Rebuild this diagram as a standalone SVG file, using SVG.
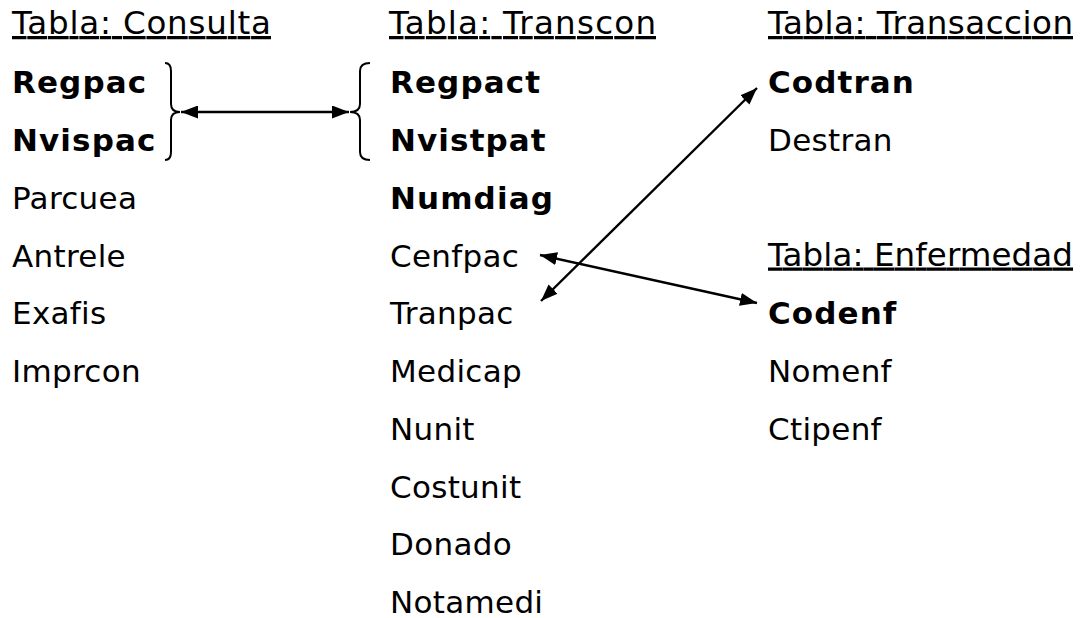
<svg xmlns="http://www.w3.org/2000/svg" width="1084" height="618" viewBox="0 0 1084 618">
<style>
text{font-family:"DejaVu Sans",Verdana,sans-serif;font-size:31px;fill:#000;letter-spacing:0.3px}
.t{font-size:32.5px;letter-spacing:0;text-decoration:underline}
.b{font-weight:bold;letter-spacing:1.1px}
.c{fill:none;stroke:#000;stroke-width:2.4}
.br{fill:none;stroke:#000;stroke-width:2}
</style>
<defs>
<marker id="ah" viewBox="0 0 17 13" refX="17" refY="6.5" markerWidth="17" markerHeight="13" markerUnits="userSpaceOnUse" orient="auto-start-reverse">
<path d="M0,0 L17,6.5 L0,13 Z" fill="#000"/>
</marker>
</defs>
<rect width="1084" height="618" fill="#fff"/>
<g id="consulta">
<text class="t" x="12" y="34" textLength="259" lengthAdjust="spacing">Tabla: Consulta</text>
<text class="b" x="12" y="93">Regpac</text>
<text class="b" x="12" y="151">Nvispac</text>
<text x="12" y="208.5">Parcuea</text>
<text x="12" y="266.5">Antrele</text>
<text x="12" y="324">Exafis</text>
<text x="12" y="382">Imprcon</text>
<path class="br" d="M165,63 Q171,63 171,71 L171,104 Q171,112 180,112 Q171,112 171,120 L171,152 Q171,160 165,160"/>
</g>
<g id="transcon">
<text class="t" x="389" y="34" textLength="267" lengthAdjust="spacing">Tabla: Transcon</text>
<text class="b" x="390" y="93">Regpact</text>
<text class="b" x="390" y="151">Nvistpat</text>
<text class="b" x="390" y="208.5">Numdiag</text>
<text x="390" y="266.5">Cenfpac</text>
<text x="390" y="324">Tranpac</text>
<text x="390" y="382">Medicap</text>
<text x="390" y="440">Nunit</text>
<text x="390" y="497.5">Costunit</text>
<text x="390" y="555">Donado</text>
<text x="390" y="613">Notamedi</text>
<path class="br" d="M370,63 Q360,63 360,71 L360,104 Q360,112 350,112 Q360,112 360,120 L360,152 Q360,160 370,160"/>
</g>
<g id="transaccion">
<text class="t" x="768" y="34" textLength="305" lengthAdjust="spacing">Tabla: Transaccion</text>
<text class="b" x="768" y="93">Codtran</text>
<text x="768" y="151">Destran</text>
</g>
<g id="enfermedad">
<text class="t" x="768" y="265.5" textLength="305" lengthAdjust="spacing">Tabla: Enfermedad</text>
<text class="b" x="768" y="324">Codenf</text>
<text x="768" y="382">Nomenf</text>
<text x="768" y="440">Ctipenf</text>
</g>
<g id="connectors">
<line class="c" x1="181" y1="112" x2="349" y2="112" marker-start="url(#ah)" marker-end="url(#ah)"/>
<line class="c" x1="541" y1="301" x2="757" y2="88" marker-start="url(#ah)" marker-end="url(#ah)"/>
<line class="c" x1="540" y1="255" x2="757" y2="303" marker-start="url(#ah)" marker-end="url(#ah)"/>
</g>
</svg>
